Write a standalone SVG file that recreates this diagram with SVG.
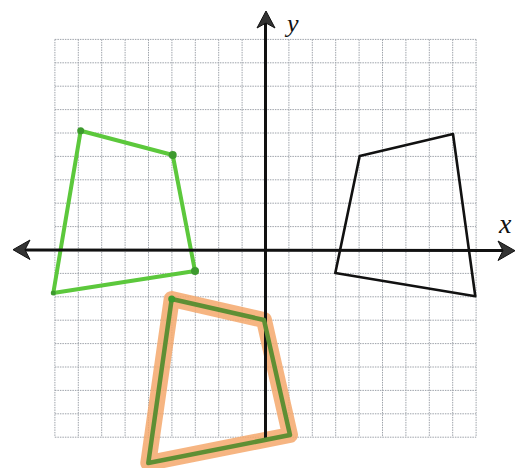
<svg xmlns="http://www.w3.org/2000/svg" width="516" height="468" viewBox="0 0 516 468">
<defs>
<style>
.grid line{stroke:#9ea3aa;stroke-width:1;stroke-dasharray:1.5 1}
.axis{stroke:#111;stroke-width:3;fill:none}
.arrow{fill:#333;stroke:#111;stroke-width:1}
.green{fill:none;stroke:#5cc83c;stroke-width:4;stroke-linejoin:round}
.dot{fill:#3d9a2e}
.hl{fill:none;stroke:#f5a86c;stroke-opacity:0.85;stroke-width:16;stroke-linejoin:round}
.olive{fill:none;stroke:#5f8f34;stroke-width:4.5;stroke-linejoin:round}
.black{fill:none;stroke:#111;stroke-width:2.6;stroke-linejoin:round}
.lbl{font-family:"Liberation Serif",serif;font-style:italic;fill:#111}
</style>
</defs>
<rect width="516" height="468" fill="#fff"/>
<g id="grid" class="grid">
<line x1="54.9" y1="39.4" x2="54.9" y2="437.2"/>
<line x1="78.3" y1="39.4" x2="78.3" y2="437.2"/>
<line x1="101.7" y1="39.4" x2="101.7" y2="437.2"/>
<line x1="125.1" y1="39.4" x2="125.1" y2="437.2"/>
<line x1="148.5" y1="39.4" x2="148.5" y2="437.2"/>
<line x1="171.9" y1="39.4" x2="171.9" y2="437.2"/>
<line x1="195.3" y1="39.4" x2="195.3" y2="437.2"/>
<line x1="218.7" y1="39.4" x2="218.7" y2="437.2"/>
<line x1="242.1" y1="39.4" x2="242.1" y2="437.2"/>
<line x1="288.9" y1="39.4" x2="288.9" y2="437.2"/>
<line x1="312.3" y1="39.4" x2="312.3" y2="437.2"/>
<line x1="335.7" y1="39.4" x2="335.7" y2="437.2"/>
<line x1="359.1" y1="39.4" x2="359.1" y2="437.2"/>
<line x1="382.5" y1="39.4" x2="382.5" y2="437.2"/>
<line x1="405.9" y1="39.4" x2="405.9" y2="437.2"/>
<line x1="429.3" y1="39.4" x2="429.3" y2="437.2"/>
<line x1="452.7" y1="39.4" x2="452.7" y2="437.2"/>
<line x1="476.1" y1="39.4" x2="476.1" y2="437.2"/>
<line x1="54.9" y1="39.4" x2="476.1" y2="39.4"/>
<line x1="54.9" y1="62.8" x2="476.1" y2="62.8"/>
<line x1="54.9" y1="86.2" x2="476.1" y2="86.2"/>
<line x1="54.9" y1="109.6" x2="476.1" y2="109.6"/>
<line x1="54.9" y1="133" x2="476.1" y2="133"/>
<line x1="54.9" y1="156.4" x2="476.1" y2="156.4"/>
<line x1="54.9" y1="179.8" x2="476.1" y2="179.8"/>
<line x1="54.9" y1="203.2" x2="476.1" y2="203.2"/>
<line x1="54.9" y1="226.6" x2="476.1" y2="226.6"/>
<line x1="54.9" y1="273.4" x2="476.1" y2="273.4"/>
<line x1="54.9" y1="296.8" x2="476.1" y2="296.8"/>
<line x1="54.9" y1="320.2" x2="476.1" y2="320.2"/>
<line x1="54.9" y1="343.6" x2="476.1" y2="343.6"/>
<line x1="54.9" y1="367" x2="476.1" y2="367"/>
<line x1="54.9" y1="390.4" x2="476.1" y2="390.4"/>
<line x1="54.9" y1="413.8" x2="476.1" y2="413.8"/>
<line x1="54.9" y1="437.2" x2="476.1" y2="437.2"/>
</g>
<g id="orange-quad">
<polygon class="hl" points="171.7,299 264,320 290,435 148.3,463"/>
</g>
<g id="green-quad">
<polygon class="green" points="80.7,130.7 172.7,155 195,271 53.3,293"/>
<circle class="dot" cx="80.7" cy="130.7" r="3.5"/>
<circle class="dot" cx="172.7" cy="155" r="4"/>
<circle class="dot" cx="195" cy="271" r="4"/>
<circle class="dot" cx="53.3" cy="293" r="2.5"/>
</g>
<g id="black-quad">
<polygon class="black" points="359.7,156 453,134 475.3,296.3 335.3,273"/>
</g>
<g id="connectors">
<line class="axis" x1="22" y1="250" x2="506" y2="250.5"/>
<line class="axis" x1="265.5" y1="20" x2="265.5" y2="439"/>
<path class="arrow" d="M13,249.7 L30,240 L25,249.8 L30,259.5 Z"/>
<path class="arrow" d="M515,250.7 L498,241 L503,250.6 L498,260.5 Z"/>
<path class="arrow" d="M266,11 L257,28 L266,23 L275,28 Z"/>
</g>
<g id="translated-quad">
<polygon class="olive" points="171.7,299 264,320 290,435 148.3,463"/>
<circle class="dot" cx="171.7" cy="299" r="3.5" fill="#4f7d2a"/>
</g>
<g id="labels">
<text class="lbl" x="287" y="32" font-size="26">y</text>
<text class="lbl" x="499" y="233" font-size="28">x</text>
</g>
</svg>
